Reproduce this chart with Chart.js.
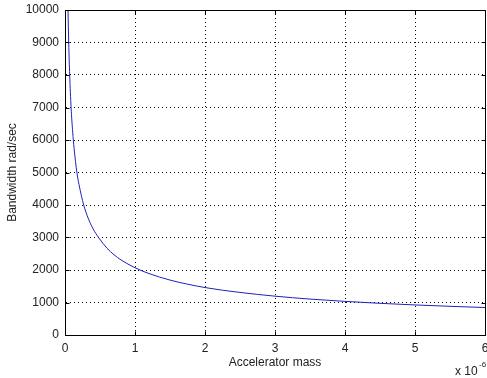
<!DOCTYPE html>
<html>
<head>
<meta charset="utf-8">
<style>
  html, body { margin: 0; padding: 0; background: #fff; }
  #wrap { width: 487px; height: 378px; }
</style>
</head>
<body>
<div id="wrap"><canvas id="bwChart" width="487" height="378"></canvas></div>

<script src="https://cdn.jsdelivr.net/npm/chart.js@4/dist/chart.umd.min.js"></script>
<script>
// values (mass in units of 1e-6)
const massValues = [0.043, 0.053, 0.067, 0.087, 0.11, 0.13, 0.17, 0.2, 0.267, 0.33, 0.4, 0.48, 0.6, 0.7, 0.8, 1.0, 1.2, 1.5, 2.0, 2.5, 3.0, 3.5, 4.0, 4.5, 5.0, 5.5, 6.0];
const bandwidthValues = [10000, 9000, 8000, 7000, 6240, 5740, 5000, 4630, 4000, 3600, 3270, 3000, 2670, 2470, 2310, 2070, 1890, 1690, 1460, 1310, 1195, 1105, 1035, 975, 925, 883, 845];
const xTickLabels = [0, 1, 2, 3, 4, 5, 6];
const yTickLabels = [0, 1000, 2000, 3000, 4000, 5000, 6000, 7000, 8000, 9000, 10000];

const FONT = "'Liberation Sans', Arial, sans-serif";

// box round the axes + inward tick marks + exponent note
const matlabAxes = {
  id: 'matlabAxes',
  afterDraw(chart) {
    const ctx = chart.ctx;
    const a = chart.chartArea;
    const xs = chart.scales.x, ys = chart.scales.y;
    const L = Math.round(a.left) + 0.5, R = Math.round(a.right) + 0.5;
    const T = Math.round(a.top) + 0.5, B = Math.round(a.bottom) + 0.5;
    ctx.save();
    ctx.strokeStyle = '#000';
    ctx.lineWidth = 1;
    ctx.beginPath();
    ctx.rect(L, T, R - L, B - T);
    ctx.stroke();
    const len = 4;
    ctx.beginPath();
    xTickLabels.forEach(v => {
      const px = Math.round(xs.getPixelForValue(v)) + 0.5;
      ctx.moveTo(px, B); ctx.lineTo(px, B - len);
      ctx.moveTo(px, T); ctx.lineTo(px, T + len);
    });
    yTickLabels.forEach(v => {
      const py = Math.round(ys.getPixelForValue(v)) + 0.5;
      ctx.moveTo(L, py); ctx.lineTo(L + len, py);
      ctx.moveTo(R, py); ctx.lineTo(R - len, py);
    });
    ctx.stroke();

    // "x 10^-6"
    ctx.fillStyle = '#222';
    ctx.textBaseline = 'alphabetic';
    ctx.textAlign = 'left';
    ctx.font = '12px ' + FONT;
    ctx.fillText('x 10', 455, 375);
    ctx.font = '8px ' + FONT;
    ctx.fillText('-6', 479, 367);
    ctx.restore();
  }
};

new Chart(document.getElementById('bwChart'), {
  type: 'scatter',
  data: {
    datasets: [{
      data: massValues.map((m, i) => ({ x: m, y: bandwidthValues[i] })),
      showLine: true,
      borderColor: '#2020c0',
      borderWidth: 1,
      pointRadius: 0,
      cubicInterpolationMode: 'monotone'
    }]
  },
  options: {
    responsive: false,
    animation: false,
    layout: { padding: { top: 10, right: 2, left: 0, bottom: 0 } },
    plugins: { legend: { display: false }, tooltip: { enabled: false } },
    scales: {
      x: {
        type: 'linear',
        min: 0,
        max: 6,
        afterBuildTicks(scale) { scale.ticks = xTickLabels.map(v => ({ value: v })); },
        afterFit(scale) { scale.height = 43; scale.paddingLeft = 0; scale.paddingRight = 0; },
        ticks: { padding: 6, color: '#222', font: { family: FONT, size: 12 }, maxRotation: 0, autoSkip: false },
        grid: { color: '#000', lineWidth: 1, drawTicks: false },
        border: { color: '#000', width: 1, dash: [1, 3] },
        title: { display: true, text: 'Accelerator mass', color: '#222', font: { family: FONT, size: 12 }, padding: { top: 0, bottom: 8 } }
      },
      y: {
        min: 0,
        max: 10000,
        afterBuildTicks(scale) { scale.ticks = yTickLabels.map(v => ({ value: v })); },
        afterFit(scale) { scale.width = 65; scale.paddingTop = 0; scale.paddingBottom = 0; },
        ticks: { padding: 6, color: '#222', font: { family: FONT, size: 12 }, autoSkip: false, callback: v => String(v) },
        grid: { color: '#000', lineWidth: 1, drawTicks: false },
        border: { color: '#000', width: 1, dash: [1, 3] },
        title: { display: true, text: 'Bandwidth rad/sec', color: '#222', font: { family: FONT, size: 12 }, padding: { top: 5, bottom: 0 } }
      }
    }
  },
  plugins: [matlabAxes]
});
</script>
</body>
</html>
